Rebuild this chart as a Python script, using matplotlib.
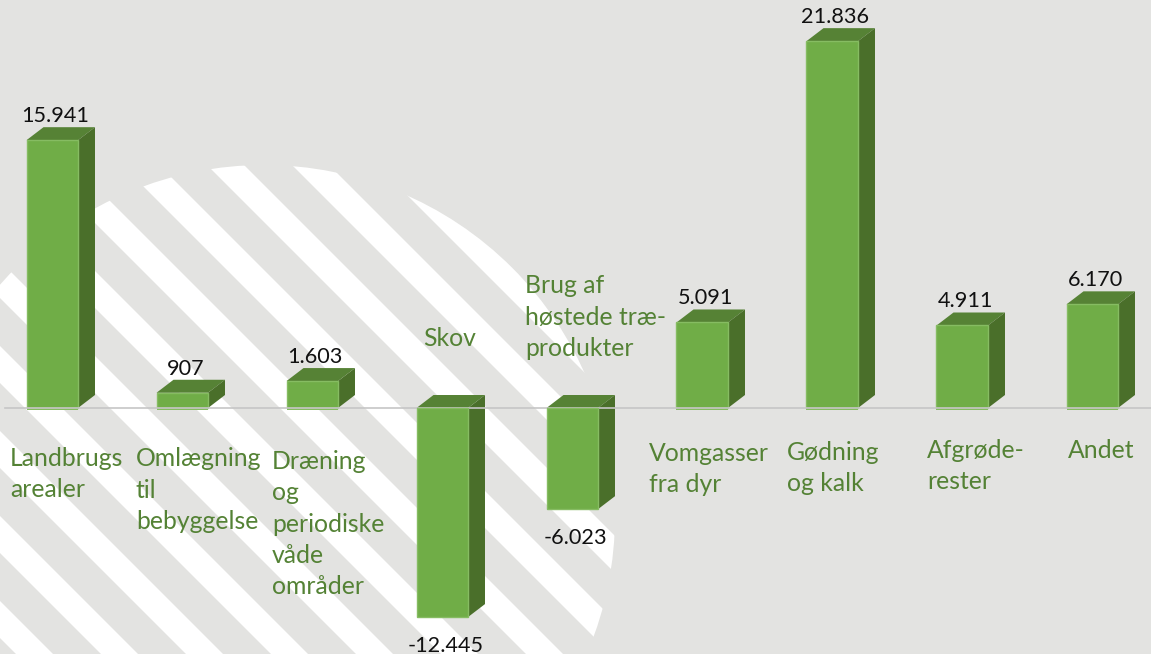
import matplotlib
matplotlib.use("Agg")
import matplotlib.pyplot as plt
from matplotlib.patches import Circle, Polygon

categories = ["Landbrugs\narealer", "Omlægning\ntil\nbebyggelse", "Dræning\nog\nperiodiske\nvåde\nområder",
              "Skov", "Brug af\nhøstede træ-\nprodukter", "Vomgasser\nfra dyr", "Gødning\nog kalk",
              "Afgrøde-\nrester", "Andet"]
values = [15941, 907, 1603, -12445, -6023, 5091, 21836, 4911, 6170]
value_labels = ["15.941", "907", "1.603", "-12.445", "-6.023", "5.091", "21.836", "4.911", "6.170"]
label_left_px = [10, 136, 272, 423, 525, 649, 787, 927, 1068]
label_center_px = [473, 489, 523, 337, 316, 468, 467, 465, 449]

W, H = 1151, 654
PX_PER_UNIT = 0.0168
BASE_PX = 408
PITCH = 130
FIRST_CENTER = 52.25
BAR_W = 51.5 / PITCH
DX = 17 / PITCH
DY = 13 / PX_PER_UNIT
STRIP = 2 / PX_PER_UNIT

FRONT, TOP, SIDE, EDGE = "#70AD47", "#568235", "#4A6F2A", "#86BC62"
TEXT_GREEN = "#548235"
plt.rcParams["font.family"] = ["Lato", "DejaVu Sans"]

fig = plt.figure(figsize=(W / 100, H / 100), dpi=100, facecolor="#E3E3E1")

# Background decoration in pixel coordinates
bg = fig.add_axes([0, 0, 1, 1], zorder=0)
bg.set_xlim(0, W); bg.set_ylim(H, 0); bg.axis("off")
clip = Circle((264, 516), 351, transform=bg.transData)
for c in range(-249, 800, 85):
    stripe = Polygon([(-50, -50 + c), (-50, -50 + c + 37), (1200, 1200 + c + 37), (1200, 1200 + c)],
                     closed=True, fc="white", ec="none")
    bg.add_patch(stripe)
    stripe.set_clip_path(clip)

# Chart axes: x = category index, y = value
ax = fig.add_axes([0, 0, 1, 1], zorder=1)
ax.patch.set_alpha(0)
ax.set_xlim(-FIRST_CENTER / PITCH, (W - FIRST_CENTER) / PITCH)
ax.set_ylim(-(H - BASE_PX) / PX_PER_UNIT, BASE_PX / PX_PER_UNIT)
ax.axis("off")

ax.plot([(5 - FIRST_CENTER) / PITCH, (W - FIRST_CENTER) / PITCH], [0, 0], color="#C6C6C6", lw=1.2, zorder=5)

for i, v in enumerate(values):
    l, r = i - BAR_W / 2, i + BAR_W / 2
    hi, lo = max(v, 0), min(v, 0)
    ax.add_patch(Polygon([(l, hi), (l + DX, hi + DY), (r + DX, hi + DY), (r, hi)], fc=TOP, ec="none", zorder=3))
    ax.add_patch(Polygon([(r, hi), (r + DX, hi + DY), (r + DX, lo + DY), (r, lo)], fc=SIDE, ec="none", zorder=3))
    ax.bar(i, v, width=BAR_W, color=FRONT, edgecolor=EDGE, linewidth=1.0, zorder=4 if v >= 0 else 6)
    if v >= 0:
        ax.bar(i, -STRIP, width=BAR_W, color=EDGE, linewidth=0, zorder=4)
        ax.annotate(value_labels[i], (i, v), xytext=(3, 24), textcoords="offset pixels",
                    ha="center", va="center", fontsize=15.6, color="#111111", zorder=7)
    else:
        ax.annotate(value_labels[i], (i, v), xytext=(3, -29), textcoords="offset pixels",
                    ha="center", va="center", fontsize=15.6, color="#111111", zorder=7)

# Category labels sit at free positions
for text, x, y in zip(categories, label_left_px, label_center_px):
    bg_x, bg_y = ax.transData.inverted().transform(bg.transData.transform((x, y + 1)))
    ax.text(bg_x, bg_y, text, ha="left", va="center", fontsize=17.8, color=TEXT_GREEN,
            linespacing=1.445, zorder=7)

fig.savefig("out.png", dpi=100, facecolor=fig.get_facecolor())
